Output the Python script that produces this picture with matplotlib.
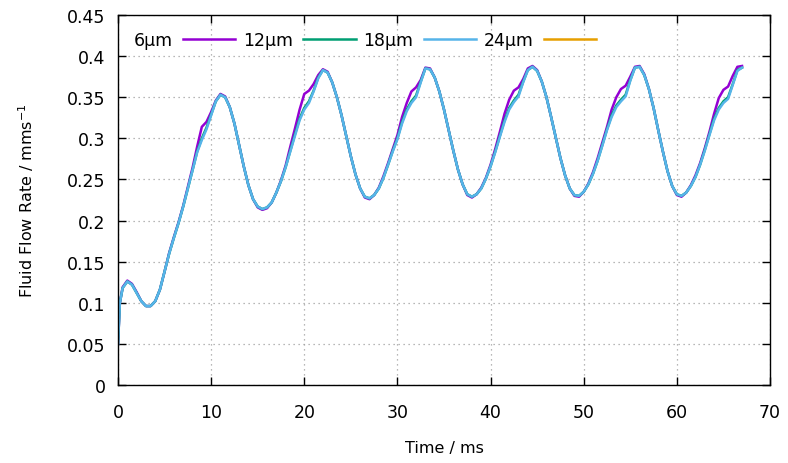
import matplotlib.pyplot as plt
from matplotlib.ticker import MultipleLocator, FuncFormatter

# time axis (ms)
time_ms = [0, 0.2] + [0.5 * i for i in range(1, 135)]

# fluid flow rate (mm/s) per grid size
flow_18um = [
    0.050, 0.100, 0.118, 0.126, 0.122, 0.112, 0.102, 0.096, 0.096, 0.102,
    0.116, 0.138, 0.160, 0.179, 0.197, 0.217, 0.239, 0.261, 0.283, 0.298,
    0.311, 0.328, 0.345, 0.353, 0.350, 0.338, 0.318, 0.292, 0.266, 0.243,
    0.226, 0.217, 0.214, 0.216, 0.222, 0.234, 0.248, 0.265, 0.284, 0.303,
    0.322, 0.335, 0.343, 0.357, 0.373, 0.383, 0.380, 0.368, 0.350, 0.328,
    0.303, 0.278, 0.256, 0.239, 0.229, 0.227, 0.231, 0.239, 0.252, 0.268,
    0.284, 0.299, 0.318, 0.333, 0.343, 0.350, 0.368, 0.385, 0.384, 0.374,
    0.357, 0.335, 0.310, 0.285, 0.262, 0.244, 0.232, 0.229, 0.232, 0.239,
    0.251, 0.266, 0.283, 0.302, 0.320, 0.335, 0.344, 0.351, 0.368, 0.383,
    0.387, 0.382, 0.369, 0.350, 0.326, 0.301, 0.276, 0.255, 0.239, 0.231,
    0.230, 0.235, 0.244, 0.257, 0.273, 0.291, 0.310, 0.326, 0.338, 0.345,
    0.351, 0.370, 0.386, 0.387, 0.377, 0.360, 0.337, 0.310, 0.284, 0.260,
    0.242, 0.232, 0.230, 0.234, 0.242, 0.253, 0.268, 0.285, 0.304, 0.322,
    0.335, 0.343, 0.348, 0.365, 0.382, 0.386,
]
flow_12um = [
    0.050, 0.100, 0.118, 0.126, 0.122, 0.112, 0.102, 0.096, 0.096, 0.102,
    0.116, 0.138, 0.160, 0.179, 0.197, 0.217, 0.239, 0.261, 0.284, 0.300,
    0.313, 0.329, 0.345, 0.353, 0.350, 0.338, 0.318, 0.292, 0.266, 0.243,
    0.226, 0.217, 0.214, 0.216, 0.222, 0.234, 0.248, 0.265, 0.285, 0.305,
    0.324, 0.337, 0.345, 0.358, 0.374, 0.383, 0.380, 0.368, 0.350, 0.328,
    0.303, 0.278, 0.256, 0.239, 0.229, 0.227, 0.231, 0.239, 0.252, 0.268,
    0.285, 0.300, 0.320, 0.335, 0.345, 0.352, 0.369, 0.385, 0.384, 0.374,
    0.357, 0.335, 0.310, 0.285, 0.262, 0.244, 0.232, 0.229, 0.232, 0.239,
    0.251, 0.266, 0.284, 0.303, 0.322, 0.337, 0.346, 0.353, 0.369, 0.383,
    0.387, 0.382, 0.369, 0.350, 0.326, 0.301, 0.276, 0.255, 0.239, 0.231,
    0.230, 0.235, 0.244, 0.257, 0.273, 0.292, 0.311, 0.328, 0.340, 0.347,
    0.353, 0.371, 0.386, 0.387, 0.377, 0.360, 0.337, 0.310, 0.284, 0.260,
    0.242, 0.232, 0.230, 0.234, 0.242, 0.253, 0.268, 0.286, 0.305, 0.324,
    0.337, 0.345, 0.350, 0.366, 0.383, 0.386,
]
flow_6um = [
    0.050, 0.100, 0.119, 0.127, 0.123, 0.113, 0.102, 0.096, 0.096, 0.102,
    0.116, 0.138, 0.161, 0.180, 0.198, 0.218, 0.241, 0.264, 0.290, 0.314,
    0.320, 0.332, 0.346, 0.354, 0.351, 0.338, 0.318, 0.292, 0.266, 0.243,
    0.226, 0.216, 0.213, 0.215, 0.222, 0.234, 0.249, 0.267, 0.290, 0.312,
    0.335, 0.354, 0.358, 0.366, 0.377, 0.384, 0.381, 0.368, 0.350, 0.328,
    0.303, 0.278, 0.256, 0.239, 0.228, 0.226, 0.231, 0.240, 0.254, 0.270,
    0.287, 0.304, 0.326, 0.343, 0.357, 0.362, 0.371, 0.386, 0.385, 0.374,
    0.357, 0.335, 0.310, 0.285, 0.262, 0.244, 0.231, 0.228, 0.232, 0.240,
    0.252, 0.268, 0.287, 0.308, 0.330, 0.347, 0.358, 0.362, 0.372, 0.385,
    0.388, 0.383, 0.369, 0.350, 0.326, 0.301, 0.276, 0.255, 0.239, 0.230,
    0.229, 0.235, 0.245, 0.259, 0.276, 0.295, 0.314, 0.335, 0.350, 0.360,
    0.364, 0.375, 0.387, 0.388, 0.378, 0.360, 0.337, 0.310, 0.284, 0.260,
    0.242, 0.231, 0.229, 0.234, 0.243, 0.255, 0.270, 0.288, 0.308, 0.330,
    0.349, 0.359, 0.363, 0.376, 0.387, 0.388,
]
flow_24um = []  # no visible curve for 24um in the chart

labels = ['6\u03bcm', '12\u03bcm', '18\u03bcm', '24\u03bcm']
colors = ['#9400d3', '#009e73', '#56b4e9', '#e69f00']

plt.rcParams['font.family'] = 'DejaVu Sans'
plt.rcParams['xtick.direction'] = 'in'
plt.rcParams['ytick.direction'] = 'in'

fig = plt.figure(figsize=(7.88, 4.64), dpi=100)
ax = fig.add_axes([118 / 788, 78 / 464, 652 / 788, 370 / 464])

series = [flow_6um, flow_12um, flow_18um, flow_24um]
for vals, lab, col in zip(series, labels, colors):
    ax.plot(time_ms[:len(vals)], vals, color=col, lw=1.8, label=lab,
            solid_joinstyle='round')

ax.set_xlim(0, 70)
ax.set_ylim(0, 0.45)
ax.xaxis.set_major_locator(MultipleLocator(10))
ax.yaxis.set_major_locator(MultipleLocator(0.05))
ax.yaxis.set_major_formatter(FuncFormatter(lambda v, p: '%g' % round(v, 2)))
ax.tick_params(which='major', length=6, width=1, labelsize=12.5,
               top=True, right=True)
ax.tick_params(axis='x', pad=13)
ax.tick_params(axis='y', pad=9)
for s in ax.spines.values():
    s.set_linewidth(1)
ax.grid(True, color='#a0a0a0', linestyle=(0, (1, 3)), linewidth=0.9)

ax.set_xlabel('Time / ms', fontsize=11.5, labelpad=14)
ax.set_ylabel('Fluid Flow Rate / mms$^{-1}$', fontsize=11.5, labelpad=22)

ax.legend(loc='upper left', bbox_to_anchor=(0.0, 1.0), ncol=4, frameon=False,
          markerfirst=False, handlelength=3.0, handletextpad=0.6,
          columnspacing=0.45, fontsize=12.5, borderaxespad=0.5)

plt.savefig('out.png', dpi=100)
